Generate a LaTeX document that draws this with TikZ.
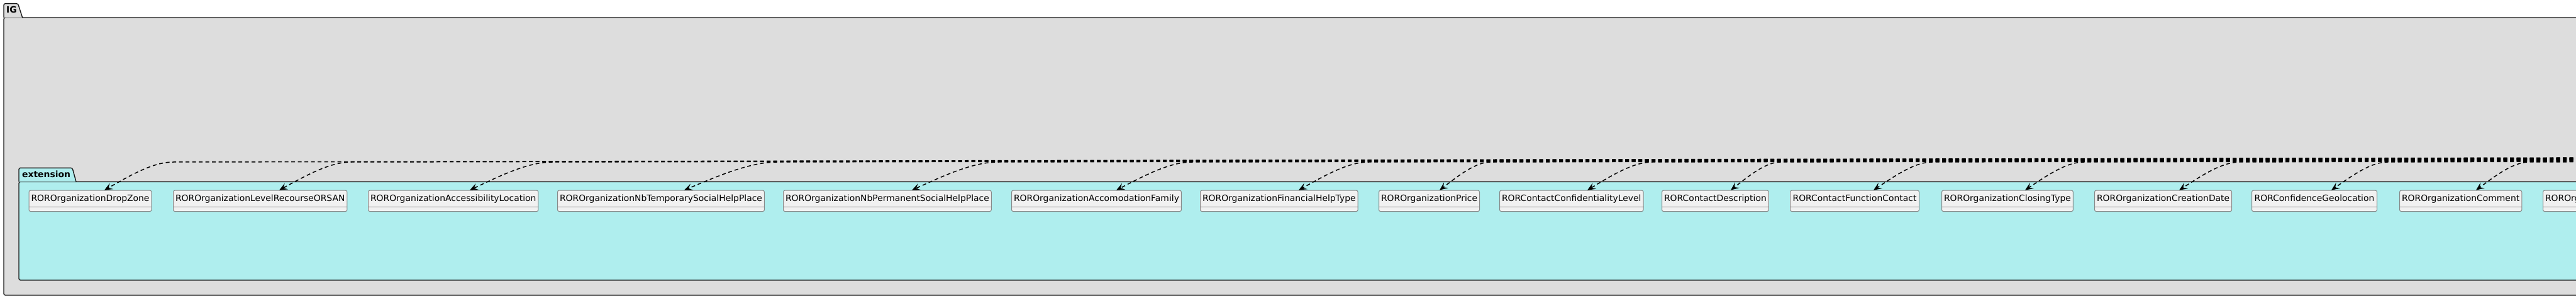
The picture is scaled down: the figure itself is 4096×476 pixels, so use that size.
\documentclass[tikz,border=0pt]{standalone}
\usepackage{fontspec}
\setmainfont{DejaVu Sans}
\usetikzlibrary{arrows.meta,calc}
\definecolor{pkgbg}{HTML}{DDDDDD}
\definecolor{extbg}{HTML}{AFEEEE}
\definecolor{boxbg}{HTML}{F1F1F1}
\definecolor{boxline}{HTML}{888888}
\definecolor{pkgline}{HTML}{181818}
\begin{document}
\begin{tikzpicture}[x=1pt,y=-1pt,
  pkg/.style={draw=pkgline, line width=1.4pt, line join=round, rounded corners=2.5pt},
  classbox/.style={draw=boxline, fill=boxbg, line width=1pt, rounded corners=2.5pt,
    anchor=north west, inner xsep=3.5pt, inner ysep=0pt,
    text height=17.3pt, text depth=16pt, font=\fontsize{13.9}{16}\selectfont},
  sepline/.style={draw=boxline, line width=1pt},
  pkglabel/.style={font=\fontsize{13.9}{16}\selectfont\bfseries, anchor=base west, inner sep=0pt},
  dep/.style={draw=black, line width=1.5pt, dash pattern=on 6pt off 4.5pt,
    -{Stealth[length=13pt,width=11pt,inset=5.5pt]}},
]
\useasboundingbox (0,0) rectangle (4096,476);
\fill[white] (0,0) rectangle (4096,476);
\clip (0,0) rectangle (4096,476);

% IG package
\draw[pkg, fill=pkgbg] (6,28) rectangle (4300,470);
\draw[pkg, fill=pkgbg] (6,28) -- (6,5.7) -- (28.5,5.7) -- (35.7,28);
\node[pkglabel] (iglabel) at (10,20.7) {IG};

% extension package
\draw[pkg, fill=extbg] (30,289.3) rectangle (4300,446);
\draw[pkg, fill=extbg] (30,289.3) -- (30,267.3) -- (115,267.3) -- (121,289.3);
\node[pkglabel] (extlabel) at (35,282) {extension};

% classes
\foreach \n/\l/\w/\t in {
  1/45.5/194.5/ROROrganizationDropZone,
  2/275/275/ROROrganizationLevelRecourseORSAN,
  3/585/265/ROROrganizationAccessibilityLocation,
  4/886/324/ROROrganizationNbTemporarySocialHelpPlace,
  5/1245/327/ROROrganizationNbPermanentSocialHelpPlace,
  6/1608/264/ROROrganizationAccomodationFamily,
  7/1908/248/ROROrganizationFinancialHelpType,
  8/2192/157/ROROrganizationPrice,
  9/2384/222/RORContactConfidentialityLevel,
  10/2642/169/RORContactDescription,
  11/2846/205/RORContactFunctionContact,
  12/3087/208/ROROrganizationClosingType,
  13/3330/215/ROROrganizationCreationDate,
  14/3580/199/RORConfidenceGeolocation,
  15/3815/192/ROROrganizationComment}{
  \node[classbox, minimum width=\w pt] (b\n) at (\l,302.7) {\t};
  \draw[sepline] ([yshift=8pt]b\n.south west) -- ([yshift=8pt]b\n.south east);
}
\node[classbox] (b16) at (4043,302.7) {ROROrganization};
\draw[sepline] ([yshift=8pt]b16.south west) -- ([yshift=8pt]b16.south east);

% dependencies
\coordinate (src) at (7000,246);
\foreach \n/\off/\tx/\jx in {
  1/120.5/166/275, 2/169/444/558, 3/162/747/878, 4/202/1088/1236,
  5/205/1450/1587, 6/167/1775/1895, 7/157/2065/2176, 8/97/2289/2370,
  9/140/2524/2627, 10/110/2752/2831, 11/133/2979/3072, 12/133/3220/3313,
  13/135/3465/3561, 14/127/3707/3796, 15/122/3937/4021}{
  \pgfmathsetmacro\D{\jx-\tx}
  \coordinate (j\n) at (\jx,258);
  \draw[dep] (src) -- (j\n) .. controls +(-0.3*\D,0) and +(0.35*\D,-21.7) .. ([xshift=\off pt]b\n.north west);
}
\end{tikzpicture}
\end{document}
